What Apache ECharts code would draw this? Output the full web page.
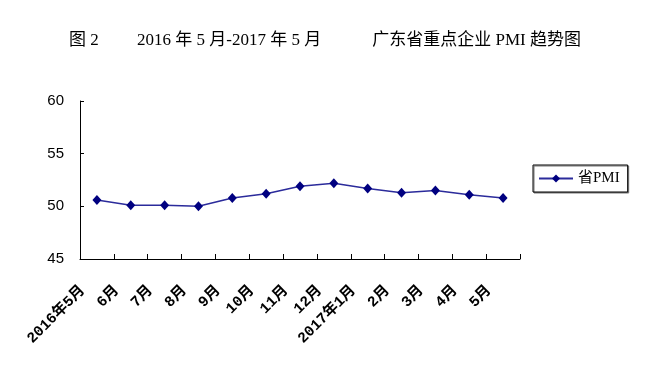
<!DOCTYPE html>
<html>
<head>
<meta charset="utf-8">
<script src="https://cdn.jsdelivr.net/npm/echarts@6/dist/echarts.min.js"></script>
<style>
html,body{margin:0;padding:0;background:#fff;}
#chart{width:650px;height:367px;}
</style>
</head>
<body>
<div id="chart"></div>
<script>
var titleText = '图 2\u3000\u3000 2016 年 5 月-2017 年 5 月\u3000\u3000\u3000广东省重点企业 PMI 趋势图';
var seriesName = '省PMI';
var categories = ['2016年5月','6月','7月','8月','9月','10月','11月','12月','2017年1月','2月','3月','4月','5月'];
var pmiValues = [50.6, 50.1, 50.1, 50.0, 50.8, 51.2, 51.9, 52.2, 51.7, 51.3, 51.5, 51.1, 50.8];
var yMin = 45, yMax = 60, yStep = 5;

var chart = echarts.init(document.getElementById('chart'), null, {renderer: 'canvas'});
chart.setOption({
  backgroundColor: '#ffffff',
  animation: false,
  title: {
    text: titleText,
    left: 'center',
    top: 27,
    textStyle: {
      fontFamily: "'Liberation Serif', 'Noto Sans CJK SC'",
      fontSize: 17,
      fontWeight: 'normal',
      color: '#000'
    }
  },
  legend: {
    data: [seriesName],
    left: 533,
    top: 165,
    orient: 'vertical',
    padding: [6, 8, 6, 5],
    itemWidth: 34,
    itemHeight: 10,
    borderColor: '#000',
    borderWidth: 1,
    shadowColor: '#777',
    shadowOffsetX: 1,
    shadowOffsetY: 1,
    shadowBlur: 0,
    backgroundColor: '#fff',
    textStyle: {
      fontFamily: "'Liberation Serif', 'Noto Sans CJK SC'",
      fontSize: 15,
      color: '#000'
    }
  },
  grid: {
    left: 80,
    right: 130,
    top: 101,
    bottom: 108,
    containLabel: false
  },
  xAxis: {
    type: 'category',
    data: categories,
    boundaryGap: true,
    axisLine: {lineStyle: {color: '#000', width: 1}},
    axisTick: {show: true, inside: true, length: 5, alignWithLabel: false, lineStyle: {color: '#000'}},
    axisLabel: {
      interval: 0,
      rotate: 45,
      margin: 15,
      padding: [0, 20, 0, 0],
      fontFamily: "'Liberation Mono', 'Noto Sans CJK SC'",
      fontSize: 15,
      fontWeight: 'bold',
      color: '#000'
    },
    splitLine: {show: false}
  },
  yAxis: {
    type: 'value',
    min: yMin,
    max: yMax,
    interval: yStep,
    axisLine: {show: true, lineStyle: {color: '#000', width: 1}},
    axisTick: {show: true, inside: true, length: 4, lineStyle: {color: '#000'}},
    axisLabel: {
      margin: 16,
      fontFamily: "'Liberation Sans', Arial",
      fontSize: 15,
      color: '#000'
    },
    splitLine: {show: false}
  },
  series: [{
    name: seriesName,
    type: 'line',
    data: pmiValues,
    symbol: 'diamond',
    symbolSize: [9, 10],
    lineStyle: {color: '#2b2b9b', width: 1.5},
    itemStyle: {color: '#000080'}
  }]
});
</script>
</body>
</html>
